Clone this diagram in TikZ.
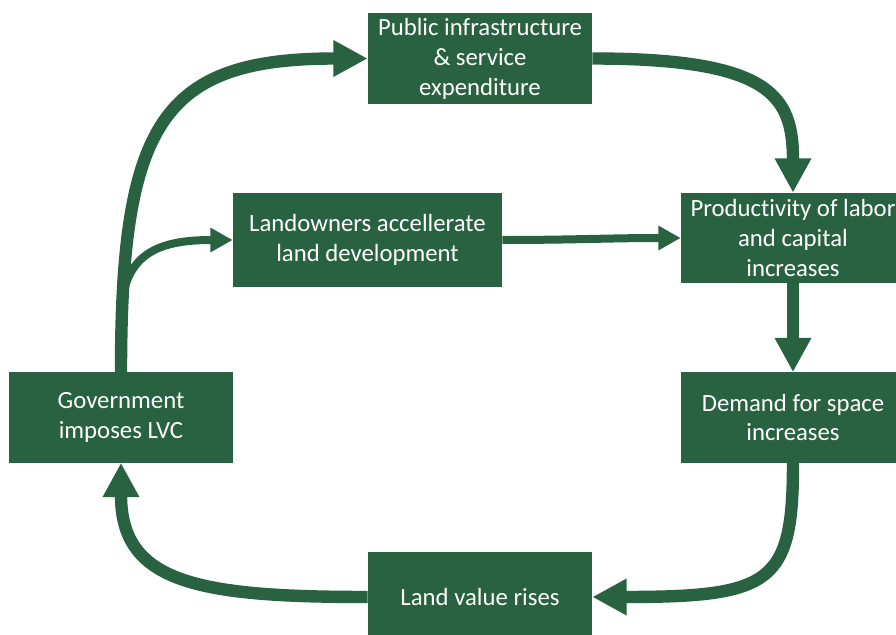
\documentclass[tikz,border=0pt]{standalone}
\usepackage{fontspec}
\setmainfont{Carlito}[Ligatures=NoCommon]
\usetikzlibrary{arrows.meta}
\definecolor{lvcgreen}{RGB}{41,98,64}
\begin{document}
\begin{tikzpicture}[x=0.025cm, y=-0.025cm,
    lvcbox/.style={fill=lvcgreen, text=white, align=center, inner sep=0pt,
      minimum width=5.6cm, minimum height=2.25cm,
      font=\fontsize{17.6pt}{21.3pt}\selectfont},
    thickflow/.style={draw=lvcgreen, line width=0.31cm,
      -{Triangle[length=0.86cm, width=0.86cm]}},
    thinflow/.style={draw=lvcgreen, line width=0.2cm,
      -{Triangle[length=0.56cm, width=0.58cm]}}]
      \useasboundingbox (0,0) rectangle (896,635);
      \node[lvcbox] (pub) at (480,58.5) {Public infrastructure\\ \& service\\ expenditure};
      \node[lvcbox, minimum width=6.725cm, minimum height=2.35cm] (land) at (367.5,240) {Landowners accellerate\\ land development};
      \node[lvcbox] (prod) at (793,238) {Productivity of labor\\ and capital\\ increases};
      \node[lvcbox] (dem) at (793,417.5) {Demand for space\\ increases};
      \node[lvcbox] (gov) at (121,417.5) {Government\\ imposes LVC};
      \node[lvcbox] (rise) at (480,597) {Land value rises};
      \coordinate (fork) at (121,320);
      \begin{scope}
        \draw[thickflow] (gov.north) .. controls +(0,-250) and +(-205,0) .. (pub.west);
        \draw[thinflow] (fork) .. controls +(0,-65) and +(-77,0) .. (land.west);
        \draw[thickflow] (pub.east) .. controls +(180,0) and +(0,-96) .. (prod.north);
        \draw[thinflow] (land.east) to[out=0,in=180] (prod.west);
        \draw[thickflow] (prod.south) -- (dem.north);
        \draw[thickflow] (dem.south) .. controls +(0,120) and +(180,0) .. (rise.east);
        \draw[thickflow] (rise.west) .. controls +(-170,0) and +(0,120) .. (gov.south);
      \end{scope}
    \end{tikzpicture}
\end{document}
